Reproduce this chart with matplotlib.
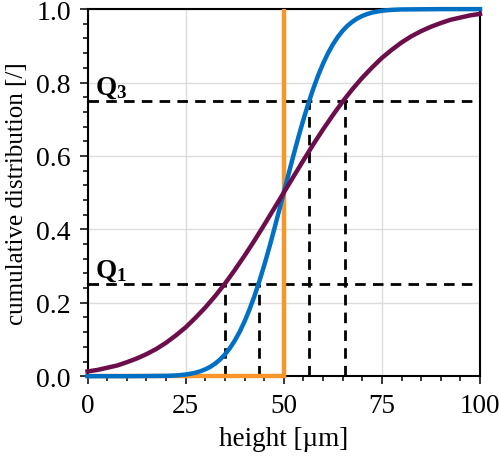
import matplotlib
matplotlib.use("Agg")
import matplotlib.pyplot as plt
from matplotlib.ticker import MultipleLocator

# ---- data ----
blue_x = [0, 10, 20, 21.25, 22.5, 23.75, 25, 26.25, 27.5, 28.75, 30, 31.25, 32.5, 33.75,
          35, 36.25, 37.5, 38.75, 40, 41.25, 42.5, 43.75, 45, 46.25, 47.5, 48.75, 50,
          51.25, 52.5, 53.75, 55, 56.25, 57.5, 58.75, 60, 61.25, 62.5, 63.75, 65, 66.25,
          67.5, 68.75, 70, 71.25, 72.5, 73.75, 75, 76.25, 77.5, 78.75, 80, 90, 100]
blue_cdf = [0.0, 0.0, 0.0009, 0.0014, 0.0021, 0.0031, 0.0046, 0.0067, 0.0095, 0.0134,
            0.0186, 0.0254, 0.0342, 0.0452, 0.0591, 0.0761, 0.0965, 0.1206, 0.1488,
            0.1811, 0.2174, 0.2575, 0.3013, 0.3480, 0.3974, 0.4483, 0.5, 0.5517, 0.6026,
            0.6520, 0.6987, 0.7425, 0.7826, 0.8189, 0.8512, 0.8794, 0.9035, 0.9239,
            0.9409, 0.9548, 0.9658, 0.9746, 0.9814, 0.9866, 0.9905, 0.9933, 0.9954,
            0.9969, 0.9979, 0.9986, 0.9991, 1.0, 1.0]
purple_x = [0, 2.5, 5, 7.5, 10, 12.5, 15, 17.5, 20, 22.5, 25, 27.5, 30, 32.5, 35, 37.5,
            40, 42.5, 45, 47.5, 50, 52.5, 55, 57.5, 60, 62.5, 65, 67.5, 70, 72.5, 75,
            77.5, 80, 82.5, 85, 87.5, 90, 92.5, 95, 97.5, 100]
purple_cdf = [0.013, 0.017, 0.023, 0.029, 0.038, 0.048, 0.060, 0.074, 0.091, 0.111,
              0.133, 0.159, 0.187, 0.218, 0.252, 0.289, 0.328, 0.369, 0.412, 0.456,
              0.500, 0.544, 0.588, 0.631, 0.672, 0.711, 0.748, 0.782, 0.813, 0.841,
              0.867, 0.889, 0.909, 0.926, 0.940, 0.952, 0.962, 0.971, 0.977, 0.983, 0.987]
orange_x = [0, 50, 50]
orange_cdf = [0, 0, 1]

q_levels = [0.25, 0.75]
q_labels = ["Q_1", "Q_3"]
blue_q = [43.6, 56.4]
purple_q = [35.0, 65.5]

x_ticks = [0, 25, 50, 75, 100]
y_ticks = [0.0, 0.2, 0.4, 0.6, 0.8, 1.0]

# ---- style ----
plt.rcParams['font.family'] = ['Liberation Serif', 'DejaVu Serif']
plt.rcParams['mathtext.fontset'] = 'custom'
plt.rcParams['mathtext.rm'] = 'Liberation Serif'
plt.rcParams['mathtext.bf'] = 'Liberation Serif:bold'

c_orange = '#F7962A'
c_blue = '#0070C4'
c_purple = '#6D0E4C'

fig = plt.figure(figsize=(5.0, 4.6), dpi=100)
ax = fig.add_axes([0.175, 0.180, 0.785, 0.798])

ax.set_xlim(0, 100)
ax.set_ylim(0, 1)

ax.grid(True, which='major', color='#dcdcdc', linewidth=1.0, zorder=0)
ax.set_axisbelow(True)

dash = dict(color='black', lw=2.0, dashes=(3.8, 2.6), zorder=2)
for lvl in q_levels:
    ax.plot([0, 100], [lvl, lvl], **dash)
for q, lvl in zip(blue_q, q_levels):
    ax.plot([q, q], [0, lvl], **dash)
for q, lvl in zip(purple_q, q_levels):
    ax.plot([q, q], [0, lvl], **dash)

ax.plot(orange_x, orange_cdf, color=c_orange, lw=3.2, zorder=3, clip_on=False,
        solid_joinstyle='miter', solid_capstyle='butt')
ax.plot(blue_x, blue_cdf, color=c_blue, lw=3.2, zorder=4, clip_on=False)
ax.plot(purple_x, purple_cdf, color=c_purple, lw=3.2, zorder=5, clip_on=False)

for lab, lvl in zip(q_labels, q_levels):
    ax.text(1.8, lvl + 0.02, r'$\mathbf{%s}$' % lab, fontsize=19.5, ha='left', va='baseline')

ax.set_xticks(x_ticks)
ax.set_yticks(y_ticks)
ax.set_yticklabels([f"{v:.1f}" for v in y_ticks])
ax.xaxis.set_minor_locator(MultipleLocator(5))
ax.yaxis.set_minor_locator(MultipleLocator(0.04))

ax.tick_params(axis='both', which='major', direction='out', length=5.5, width=1.1)
ax.tick_params(axis='both', which='minor', direction='out', length=3.5, width=1.1)
ax.tick_params(axis='x', which='major', labelsize=19.5, pad=6.5)
ax.tick_params(axis='y', which='major', labelsize=20, pad=6.5)

for s in ax.spines.values():
    s.set_linewidth(1.5)
    s.set_color('black')
    s.set_zorder(2.5)

ax.set_xlabel('height [µm]', fontsize=19.5, labelpad=6)
ax.set_ylabel('cumulative distribution [/]', fontsize=18, labelpad=6)

fig.savefig('out.png', dpi=100)
